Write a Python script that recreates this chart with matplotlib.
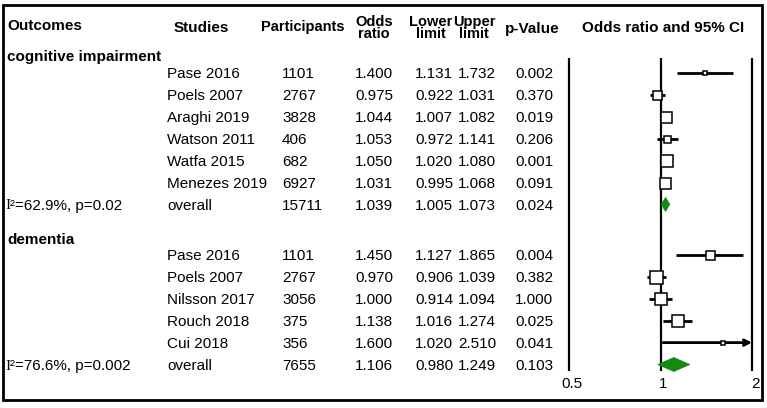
import matplotlib
matplotlib.use("Agg")
import matplotlib.pyplot as plt
from matplotlib.patches import Polygon, Rectangle
import matplotlib.transforms as mtransforms

# ---------------- data ----------------
headers = ["Outcomes", "Studies", "Participants", "Odds\nratio", "Lower\nlimit", "Upper\nlimit", "p-Value",
           "Odds ratio and 95% CI"]

groups = ["cognitive impairment", "dementia"]

cog_studies = ["Pase 2016", "Poels 2007", "Araghi 2019", "Watson 2011", "Watfa 2015", "Menezes 2019"]
cog_n = [1101, 2767, 3828, 406, 682, 6927]
cog_or = [1.400, 0.975, 1.044, 1.053, 1.050, 1.031]
cog_lo = [1.131, 0.922, 1.007, 0.972, 1.020, 0.995]
cog_hi = [1.732, 1.031, 1.082, 1.141, 1.080, 1.068]
cog_p = [0.002, 0.370, 0.019, 0.206, 0.001, 0.091]
cog_overall = dict(n=15711, orr=1.039, lo=1.005, hi=1.073, p=0.024, het="62.9%, p=0.02")

dem_studies = ["Pase 2016", "Poels 2007", "Nilsson 2017", "Rouch 2018", "Cui 2018"]
dem_n = [1101, 2767, 3056, 375, 356]
dem_or = [1.450, 0.970, 1.000, 1.138, 1.600]
dem_lo = [1.127, 0.906, 0.914, 1.016, 1.020]
dem_hi = [1.865, 1.039, 1.094, 1.274, 2.510]
dem_p = [0.004, 0.382, 1.000, 0.025, 0.041]
dem_overall = dict(n=7655, orr=1.106, lo=0.980, hi=1.249, p=0.103, het="76.6%, p=0.002")

x_ticks = [0.5, 1, 2]
x_tick_labels = ["0.5", "1", "2"]

# ---------------- style / layout ----------------
cog_marker_px = [4, 9, 11, 7, 12, 11]
dem_marker_px = [9, 13, 12, 12, 5]

W, H = 767, 408
FONT = "Liberation Sans"
plt.rcParams["font.family"] = [FONT, "DejaVu Sans"]

fig = plt.figure(figsize=(W / 100, H / 100), dpi=100)
ax = fig.add_axes([0, 0, 1, 1])
ax.set_xlim(0, W)
ax.set_ylim(H, 0)
ax.axis("off")

# forest axes (log scale); y in pixel rows
fx0, fx1 = 569, 752
axf = fig.add_axes([fx0 / W, 0, (fx1 - fx0) / W, 1])
axf.set_xscale("log")
axf.set_xlim(x_ticks[0], x_ticks[-1])
axf.set_ylim(H, 0)
axf.axis("off")
axf.patch.set_visible(False)

# outer frame
ax.add_patch(Rectangle((3, 5), 759, 395, fill=False, lw=2.0, edgecolor="black"))

# header
HFS = 11
ax.text(7, 25, headers[0], fontsize=HFS, fontweight="bold", ha="left", va="center_baseline")
ax.text(174, 26, headers[1], fontsize=HFS, fontweight="bold", ha="left", va="center_baseline")
ax.text(303, 26, headers[2], fontsize=10.5, fontweight="bold", ha="center", va="center_baseline")
ax.text(374, 28, headers[3], fontsize=10.5, fontweight="bold", ha="center", va="center", linespacing=0.85)
ax.text(431, 28, headers[4], fontsize=10.5, fontweight="bold", ha="center", va="center", linespacing=0.85)
ax.text(474, 28, headers[5], fontsize=10.5, fontweight="bold", ha="center", va="center", linespacing=0.85)
ax.text(532, 28, headers[6], fontsize=HFS, fontweight="bold", ha="center", va="center_baseline")
ax.text(663, 27, headers[7], fontsize=HFS, fontweight="bold", ha="center", va="center_baseline")

BFS = 11
STEP = 21.9
GREEN = "#148a14"

# vertical reference lines
axf.vlines(x_ticks, 58, 371, colors="black", lw=1.6, clip_on=False)
for xv, lab in zip(x_ticks, x_tick_labels):
    t = mtransforms.offset_copy(axf.transData, fig=fig, x=3, y=0, units="dots")
    axf.text(xv, 383, lab, fontsize=BFS, ha="center", va="center_baseline", transform=t)


def draw_group(name, y0, studies, ns, ors, los, his, ps, overall, msizes):
    ax.text(7, y0 - 17, name, fontsize=HFS, fontweight="bold", ha="left", va="center_baseline")
    for i, (s, n, o, lo, hi, p, ms) in enumerate(zip(studies, ns, ors, los, his, ps, msizes)):
        y = y0 + i * STEP
        ax.text(167, y, s, fontsize=BFS, ha="left", va="center_baseline")
        ax.text(282, y, str(n), fontsize=BFS, ha="left", va="center_baseline")
        ax.text(374, y, f"{o:.3f}", fontsize=BFS, ha="center", va="center_baseline")
        ax.text(434, y, f"{lo:.3f}", fontsize=BFS, ha="center", va="center_baseline")
        ax.text(477, y, f"{hi:.3f}", fontsize=BFS, ha="center", va="center_baseline")
        ax.text(534, y, f"{p:.3f}", fontsize=BFS, ha="center", va="center_baseline")
        if hi > x_ticks[-1]:
            axf.annotate("", xy=(x_ticks[-1], y), xytext=(lo, y),
                         arrowprops=dict(arrowstyle="->", lw=2.0, color="black",
                                         shrinkA=0, shrinkB=0, mutation_scale=10),
                         annotation_clip=False)
        else:
            axf.plot([lo, hi], [y, y], color="black", lw=2.0, solid_capstyle="butt", zorder=2)
        axf.plot([o], [y], marker="s", markersize=ms * 0.72, markerfacecolor="white",
                 markeredgecolor="black", markeredgewidth=1.1, zorder=3, clip_on=False)
    # overall row
    y = y0 + len(studies) * STEP
    ax.text(5, y, "I", fontsize=BFS, ha="left", va="center_baseline", family="Liberation Serif")
    ax.text(9.5, y, "²=" + overall["het"], fontsize=BFS, ha="left", va="center_baseline")
    ax.text(167, y, "overall", fontsize=BFS, ha="left", va="center_baseline")
    ax.text(282, y, str(overall["n"]), fontsize=BFS, ha="left", va="center_baseline")
    ax.text(374, y, f"{overall['orr']:.3f}", fontsize=BFS, ha="center", va="center_baseline")
    ax.text(434, y, f"{overall['lo']:.3f}", fontsize=BFS, ha="center", va="center_baseline")
    ax.text(477, y, f"{overall['hi']:.3f}", fontsize=BFS, ha="center", va="center_baseline")
    ax.text(534, y, f"{overall['p']:.3f}", fontsize=BFS, ha="center", va="center_baseline")
    hh = 7
    diamond = Polygon([(overall["lo"], y), (overall["orr"], y - hh), (overall["hi"], y), (overall["orr"], y + hh)],
                      closed=True, facecolor=GREEN, edgecolor=GREEN, lw=0.5, zorder=4)
    axf.add_patch(diamond)


draw_group(groups[0], 73, cog_studies, cog_n, cog_or, cog_lo, cog_hi, cog_p, cog_overall, cog_marker_px)
draw_group(groups[1], 255, dem_studies, dem_n, dem_or, dem_lo, dem_hi, dem_p, dem_overall, dem_marker_px)

fig.savefig("out.png", dpi=100)
